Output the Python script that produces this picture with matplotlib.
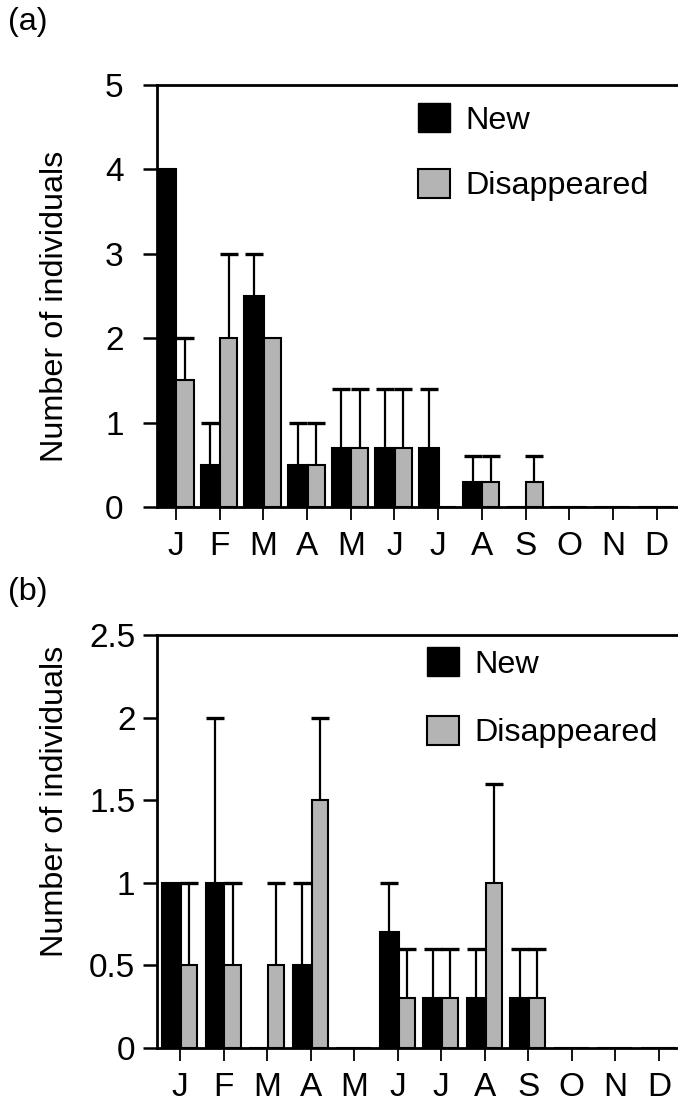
import numpy as np
import matplotlib
matplotlib.use("Agg")
import matplotlib.pyplot as plt
from matplotlib.patches import Patch

plt.rcParams['font.family'] = ['Liberation Sans', 'DejaVu Sans']

# month labels shared by both panels
months = ['J', 'F', 'M', 'A', 'M', 'J', 'J', 'A', 'S', 'O', 'N', 'D']

# panel (a)
a_new = [4, 0.5, 2.5, 0.5, 0.7, 0.7, 0.7, 0.3, 0, 0, 0, 0]
a_new_err = [0, 0.5, 0.5, 0.5, 0.7, 0.7, 0.7, 0.3, 0, 0, 0, 0]
a_dis = [1.5, 2, 2, 0.5, 0.7, 0.7, 0, 0.3, 0.3, 0, 0, 0]
a_dis_err = [0.5, 1, 0, 0.5, 0.7, 0.7, 0, 0.3, 0.3, 0, 0, 0]
a_yticks = [0, 1, 2, 3, 4, 5]
a_ylabels = ['0', '1', '2', '3', '4', '5']

# panel (b)
b_new = [1, 1, 0, 0.5, 0, 0.7, 0.3, 0.3, 0.3, 0, 0, 0]
b_new_err = [0, 1, 0, 0.5, 0, 0.3, 0.3, 0.3, 0.3, 0, 0, 0]
b_dis = [0.5, 0.5, 0.5, 1.5, 0, 0.3, 0.3, 1.0, 0.3, 0, 0, 0]
b_dis_err = [0.5, 0.5, 0.5, 0.5, 0, 0.3, 0.3, 0.6, 0.3, 0, 0, 0]
b_yticks = [0, 0.5, 1, 1.5, 2, 2.5]
b_ylabels = ['0', '0.5', '1', '1.5', '2', '2.5']

FS = 23.3
TFS = 24
GRAY = '#b4b4b4'


def upper_err(ax, xs, vals, errs):
    xs = np.asarray(xs)
    vals = np.asarray(vals, dtype=float)
    errs = np.asarray(errs, dtype=float)
    keep = errs > 0
    eb = ax.errorbar(xs[keep], vals[keep],
                     yerr=[np.zeros(keep.sum()), errs[keep]],
                     fmt='none', ecolor='black', elinewidth=1.6,
                     capsize=6.5, capthick=2.4, zorder=4)
    # hide the lower caps, only the upper "T" is drawn
    eb[1][0].set_visible(False)


def panel(ax, new, new_err, dis, dis_err, yticks, ylabels, xlim,
          left, wnew, wdis, ypad, leg_xy, spacing, label_y):
    x = np.arange(len(months))
    ax.bar(x + left, new, width=wnew, align='edge', color='black',
           edgecolor='black', linewidth=1.5, zorder=3)
    ax.bar(x + left + wnew, dis, width=wdis, align='edge', color=GRAY,
           edgecolor='black', linewidth=1.5, zorder=3)
    upper_err(ax, x + left + wnew / 2, new, new_err)
    upper_err(ax, x + left + wnew + wdis / 2, dis, dis_err)

    ax.set_xlim(xlim)
    ax.set_ylim(yticks[0], yticks[-1])
    ax.set_xticks(x)
    ax.set_xticklabels(months, fontsize=TFS)
    ax.set_yticks(yticks)
    ax.set_yticklabels(ylabels, fontsize=TFS)
    ax.spines['right'].set_visible(False)
    for s in ['left', 'top', 'bottom']:
        ax.spines[s].set_linewidth(2)
    ax.tick_params(axis='y', direction='out', length=10, width=1.8, pad=ypad)
    ax.tick_params(axis='x', direction='out', length=9, width=1.3, pad=8)
    ax.set_ylabel('Number of individuals', fontsize=FS)
    ax.yaxis.set_label_coords(-0.167, label_y)

    handles = [Patch(facecolor='black', edgecolor='black', label='New'),
               Patch(facecolor=GRAY, edgecolor='black', linewidth=1.5,
                     label='Disappeared')]
    ax.legend(handles=handles, loc='upper left', bbox_to_anchor=leg_xy,
              bbox_transform=ax.figure.transFigure, frameon=False,
              fontsize=FS, borderpad=0, borderaxespad=0,
              handlelength=1.0, handleheight=1.0, handletextpad=0.45,
              labelspacing=spacing)


fig = plt.figure(figsize=(6.78, 11.02), dpi=100)
ax1 = fig.add_axes([0.2316, 0.5399, 0.7684, 0.383])
ax2 = fig.add_axes([0.2316, 0.049, 0.7684, 0.3748])

panel(ax1, a_new, a_new_err, a_dis, a_dis_err, a_yticks, a_ylabels,
      (-0.435, 11.49), -0.435, 0.445, 0.39, 14,
      (418 / 678, 1 - 103 / 1102), 1.03, 0.476)
panel(ax2, b_new, b_new_err, b_dis, b_dis_err, b_yticks, b_ylabels,
      (-0.53, 11.44), -0.41, 0.43, 0.37, 5.5,
      (427 / 678, 1 - 647 / 1102), 1.12, 0.598)

fig.text(0.012, 0.994, '(a)', fontsize=FS, va='top', ha='left')
fig.text(0.012, 0.476, '(b)', fontsize=FS, va='top', ha='left')

plt.savefig('out.png', dpi=100)
